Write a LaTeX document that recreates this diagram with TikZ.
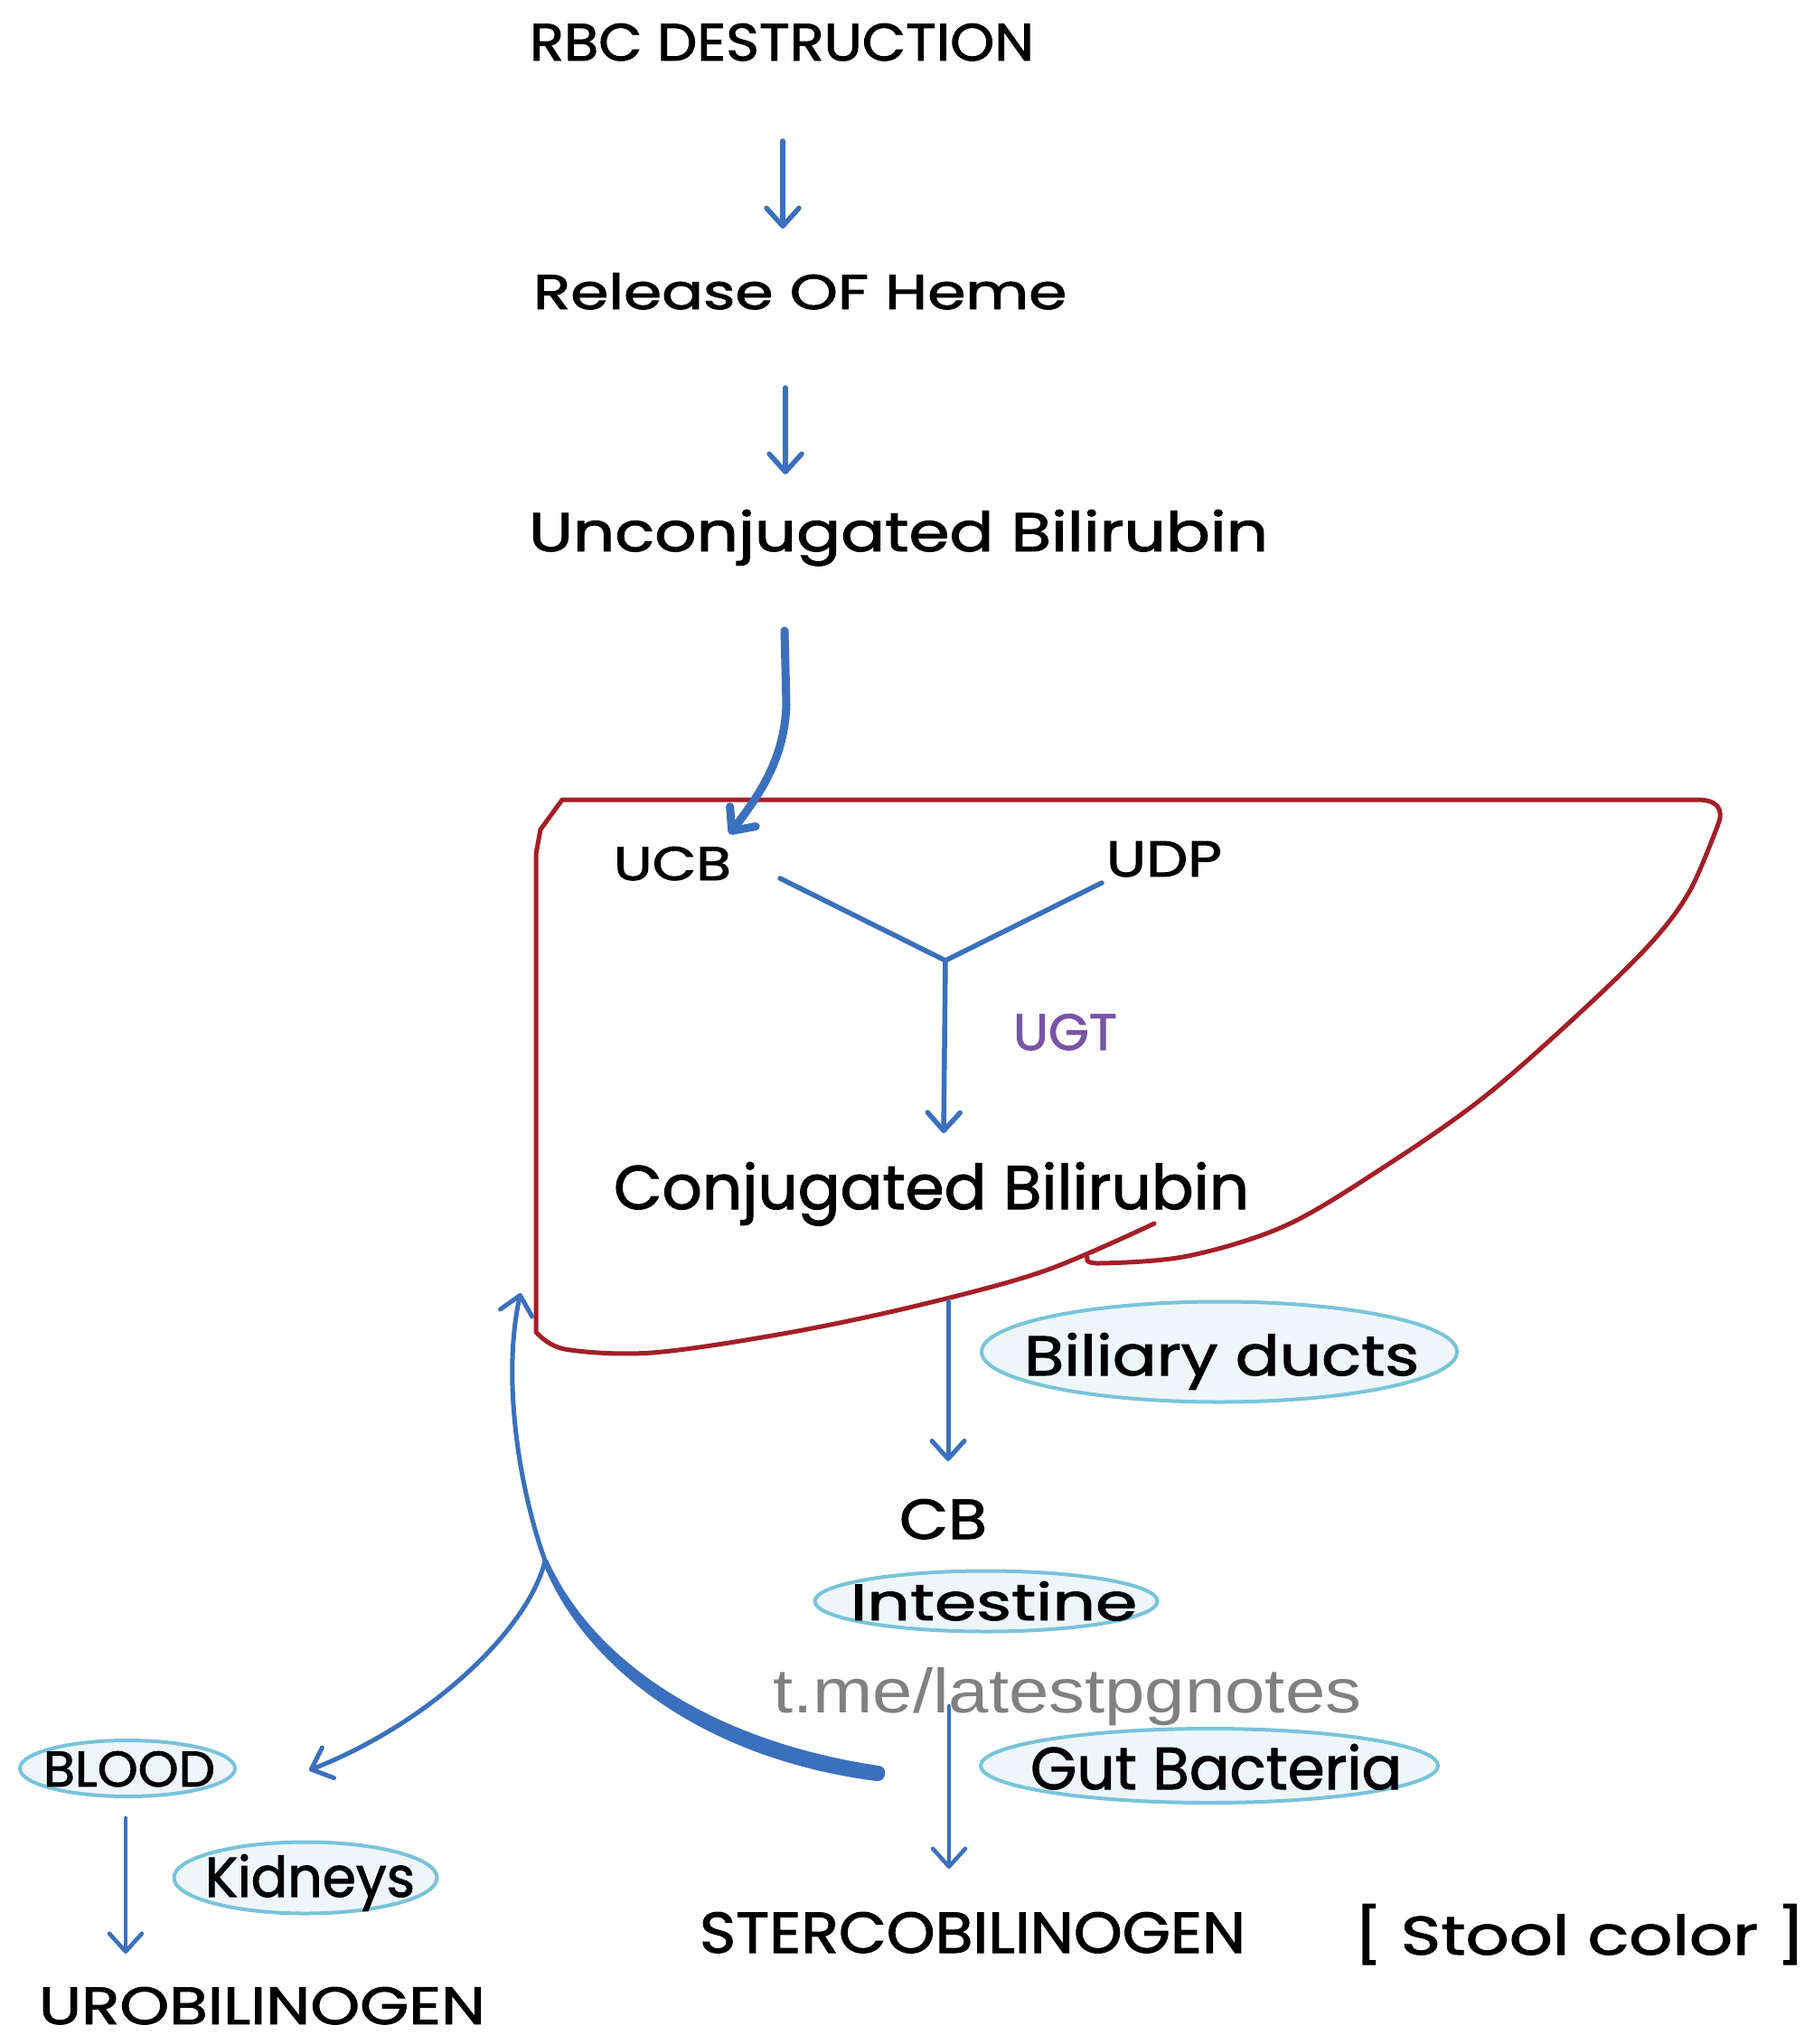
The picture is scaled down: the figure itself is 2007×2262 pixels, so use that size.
\documentclass[tikz,border=0pt]{standalone}
\usepackage{fontspec}
\setmainfont{Poppins}[FakeBold=1.6]
\newfontfamily\wmfont{Liberation Sans}
\usetikzlibrary{arrows.meta,shapes.geometric}
\definecolor{flowblue}{RGB}{58,112,190}
\definecolor{liverred}{RGB}{165,30,38}
\definecolor{ugtpurple}{RGB}{122,84,168}
\definecolor{pillline}{RGB}{120,196,218}
\definecolor{pillfill}{RGB}{238,246,250}
\definecolor{wmgray}{RGB}{128,128,128}
\newcommand{\fitbox}[3]{\resizebox{#1pt}{#2pt}{#3}}
\begin{document}
\begin{tikzpicture}[x=1pt,y=-1pt,
  lbl/.style={anchor=base west, inner sep=0pt, outer sep=0pt, text=black},
  flow/.style={draw=flowblue, line width=5.5pt, line cap=round, line join=round},
  arr/.style={flow, -{Straight Barb[length=20pt,width=36pt,round]}},
  pill/.style={ellipse, draw=pillline, fill=pillfill, line width=4pt, inner sep=0pt},
  liver/.style={draw=liverred, line width=5pt, line join=round, line cap=round}]
\useasboundingbox[fill=white] (0,0) rectangle (2007,2262);

% liver outline
\draw[liver] plot[smooth, tension=0.55] coordinates {(1277,1354) (1154,1407) (1010,1446) (866,1476) (721,1497) (625,1493) (593,1474)}
  -- (593,945) -- (598,918) -- (622,885) -- (1878,885) .. controls (1898,885) and (1908,894) .. (1901,912)
  -- plot[smooth, tension=0.55] coordinates {(1901,912) (1870,985) (1828,1042) (1751,1118) (1642,1214) (1532,1291) (1423,1356) (1314,1390) (1216,1398) (1203,1392)};

% ellipses
\node[pill, minimum width=526pt, minimum height=111pt] (bdE) at (1349,1496) {};
\node[pill, minimum width=379pt, minimum height=67pt] (intE) at (1091,1772) {};
\node[pill, minimum width=506pt, minimum height=82pt] (gbE) at (1338,1954) {};
\node[pill, minimum width=238pt, minimum height=62pt] (bloodE) at (141,1957) {};
\node[pill, minimum width=291pt, minimum height=79pt] (kidE) at (338,2078) {};

% texts
\node[lbl] (rbc) at (586,67) {\fitbox{558}{41}{RBC DESTRUCTION}};
\node[lbl] (heme) at (590,342) {\fitbox{590}{40}{Release OF Heme}};
\node[lbl] (ucbil) at (585,610) {\fitbox{818}{46}{Unconjugated Bilirubin}};
\node[lbl] (ucb) at (679,974) {\fitbox{130}{37}{UCB}};
\node[lbl] (udp) at (1224,970) {\fitbox{128}{39}{UDP}};
\node[lbl, text=ugtpurple] (ugt) at (1121,1162) {\fitbox{115}{40}{UGT}};
\node[lbl] (cbil) at (679,1338) {\fitbox{703}{52}{Conjugated Bilirubin}};
\node[lbl] (bd) at (1133,1522) {\fitbox{437}{47}{Biliary ducts}};
\node[lbl] (cb) at (995,1703) {\fitbox{97}{44}{CB}};
\node[lbl] (int) at (941,1793) {\fitbox{317}{43}{Intestine}};
\node[lbl] (gb) at (1140,1980) {\fitbox{411}{50}{Gut Bacteria}};
\node[lbl] (sb) at (774,2161) {\fitbox{604}{45}{STERCOBILINOGEN}};
\node[lbl] (stool) at (1498,2163) {\fitbox{499}{56}{[ Stool color ]}};
\node[lbl] (blood) at (48,1977) {\fitbox{190}{39}{BLOOD}};
\node[lbl] (kid) at (227,2099) {\fitbox{232}{47}{Kidneys}};
\node[lbl] (uro) at (43,2240) {\fitbox{494}{41}{UROBILINOGEN}};

% connector end points
\coordinate (a1s) at (866,156); \coordinate (a1e) at (866,253);
\coordinate (a2s) at (869,429); \coordinate (a2e) at (869,525);
\coordinate (a3s) at (868,698); \coordinate (a3m) at (870,780); \coordinate (a3e) at (807,923);
\coordinate (yl) at (863,972); \coordinate (yr) at (1219,977);
\coordinate (yj) at (1046,1063); \coordinate (yt) at (1044,1254);
\coordinate (c1s) at (1049,1440); \coordinate (c1e) at (1049,1617);
\coordinate (c2s) at (1050,1888); \coordinate (c2e) at (1050,2068);
\coordinate (u1s) at (139,2012); \coordinate (u1e) at (139,2162);
\coordinate (J) at (603,1727);
\coordinate (liverin) at (576,1431);
\coordinate (bloodin) at (342,1959);

\draw[arr] (a1s) -- (a1e);
\draw[arr] (a2s) -- (a2e);
\draw[arr, line width=9pt] (a3s) -- (a3m) .. controls (868,840) and (840,880) .. (a3e);
\draw[flow] (yl) -- (yj) -- (yr);
\draw[arr] (yj) -- (yt);
\draw[arr, line width=5pt] (c1s) -- (c1e);
\draw[arr, line width=4.5pt] (c2s) -- (c2e);
\draw[arr, line width=4.5pt] (u1s) -- (u1e);
\draw[arr, line width=5pt] (J) .. controls (572,1640) and (556,1520) .. (liverin);
\draw[arr, line width=5pt] (J) .. controls (586,1800) and (480,1905) .. (bloodin);
\fill[flowblue] (600,1728) .. controls (645,1843) and (776,1946) .. (970,1971)
  .. controls (981,1972) and (983,1955) .. (972,1954)
  .. controls (784,1926) and (655,1836) .. (606,1726) -- cycle;

% watermark
\node[lbl, text=wmgray, font=\wmfont] (wm) at (855,1895) {\fitbox{651}{50}{t.me/latestpgnotes}};
\end{tikzpicture}
\end{document}
